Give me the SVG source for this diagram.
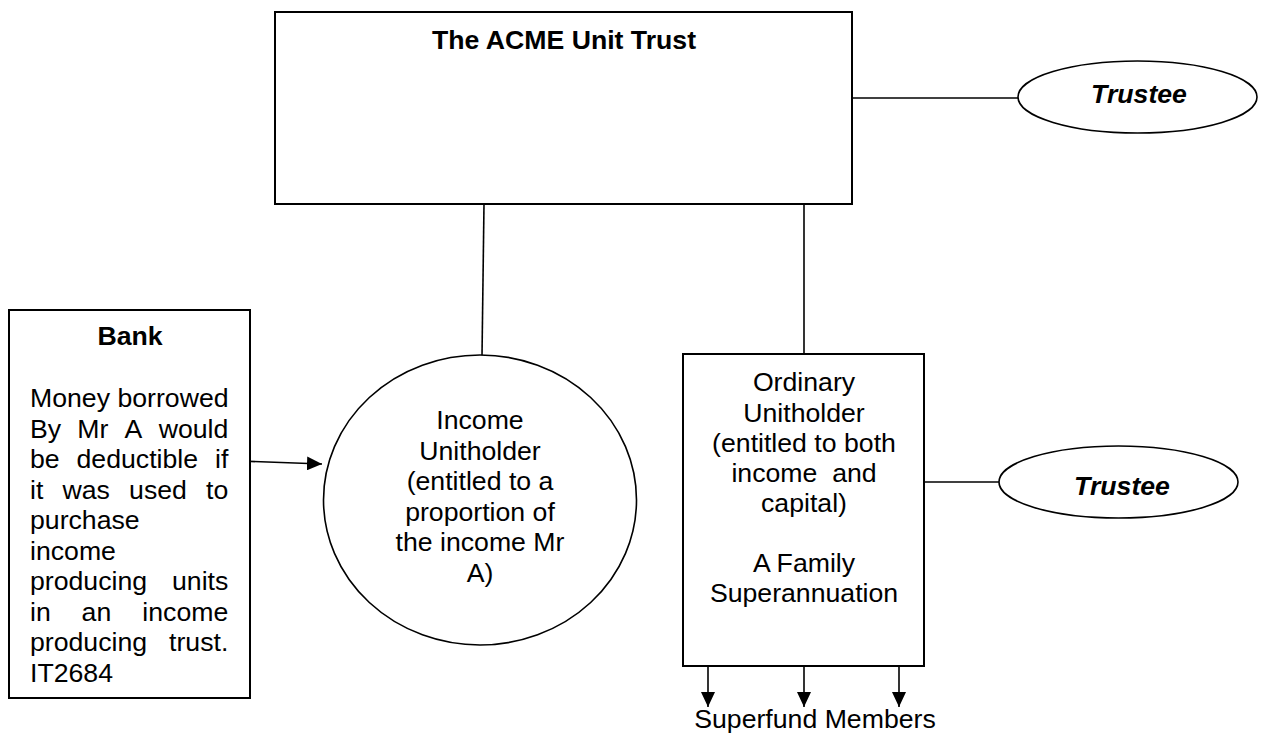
<svg xmlns="http://www.w3.org/2000/svg" width="1264" height="733" viewBox="0 0 1264 733">
<style>
.box{fill:#fff;stroke:#000;stroke-width:2}
.shape{fill:#fff;stroke:#000;stroke-width:1.6}
.con{fill:none;stroke:#000;stroke-width:1.6}
text{font-family:"Liberation Sans",Arial,sans-serif;font-size:26.67px;fill:#000}
.b{font-weight:bold}
.bi{font-weight:bold;font-style:italic}
.c{text-anchor:middle}
.e{text-anchor:end}
</style>
<defs>
<marker id="arr" markerUnits="userSpaceOnUse" markerWidth="16" markerHeight="14" refX="15" refY="7" orient="auto">
<path d="M0,0 L15,7 L0,14 Z" fill="#000"/>
</marker>
</defs>
<g id="connectors">
<line class="con" x1="852" y1="98" x2="1018" y2="98"/>
<line class="con" x1="484" y1="204" x2="482" y2="356"/>
<line class="con" x1="804" y1="204" x2="804" y2="354"/>
<line class="con" x1="924" y1="482" x2="999" y2="482"/>
<line class="con" x1="240" y1="461" x2="322" y2="464" marker-end="url(#arr)"/>
<line class="con" x1="708" y1="660" x2="708" y2="707" marker-end="url(#arr)"/>
<line class="con" x1="804" y1="660" x2="804" y2="707" marker-end="url(#arr)"/>
<line class="con" x1="899" y1="660" x2="899" y2="707" marker-end="url(#arr)"/>
</g>
<g id="trust">
<rect class="box" x="275" y="12" width="577" height="192"/>
<text class="b c" x="564" y="49">The ACME Unit Trust</text>
</g>
<g id="trustee1">
<ellipse class="shape" cx="1137.5" cy="97" rx="119.5" ry="36"/>
<text class="bi c" x="1139" y="103">Trustee</text>
</g>
<g id="bank">
<rect class="box" x="9" y="310" width="241" height="388"/>
<text class="b c" x="130" y="345">Bank</text>
<text x="30" y="407">Money borrowed</text>
<text x="30" y="437.5">By</text><text x="77.3" y="437.5">Mr</text><text x="124.6" y="437.5">A</text><text class="e" x="228.3" y="437.5">would</text>
<text x="30" y="468">be</text><text x="76.5" y="468">deductible</text><text class="e" x="228.3" y="468">if</text>
<text x="30" y="498.5">it</text><text x="62.5" y="498.5">was</text><text x="129.1" y="498.5">used</text><text class="e" x="228.3" y="498.5">to</text>
<text x="30" y="529">purchase</text>
<text x="30" y="559.5">income</text>
<text x="30" y="590">producing</text><text class="e" x="228.3" y="590">units</text>
<text x="30" y="620.5">in</text><text x="81.6" y="620.5">an</text><text class="e" x="228.3" y="620.5">income</text>
<text x="30" y="651">producing</text><text class="e" x="228.3" y="651">trust.</text>
<text x="30" y="682">IT2684</text>
</g>
<g id="income-unitholder">
<ellipse class="shape" cx="480" cy="500" rx="156.5" ry="145"/>
<text class="c" x="480" y="429">Income</text>
<text class="c" x="480" y="459.5">Unitholder</text>
<text class="c" x="480" y="490">(entitled to a</text>
<text class="c" x="480" y="520.5">proportion of</text>
<text class="c" x="480" y="551">the income Mr</text>
<text class="c" x="480" y="581.5">A)</text>
</g>
<g id="ordinary-unitholder">
<rect class="box" x="683" y="354" width="241" height="312"/>
<text class="c" x="804" y="391">Ordinary</text>
<text class="c" x="804" y="421.5">Unitholder</text>
<text class="c" x="804" y="452">(entitled to both</text>
<text class="c" x="804" y="482" xml:space="preserve">income  and</text>
<text class="c" x="804" y="512">capital)</text>
<text class="c" x="804" y="572">A Family</text>
<text class="c" x="804" y="602">Superannuation</text>
</g>
<g id="trustee2">
<ellipse class="shape" cx="1118.5" cy="482" rx="119.5" ry="36"/>
<text class="bi c" x="1122" y="495">Trustee</text>
</g>
<g id="superfund-members">
<text class="c" x="815" y="728">Superfund Members</text>
</g>
</svg>
